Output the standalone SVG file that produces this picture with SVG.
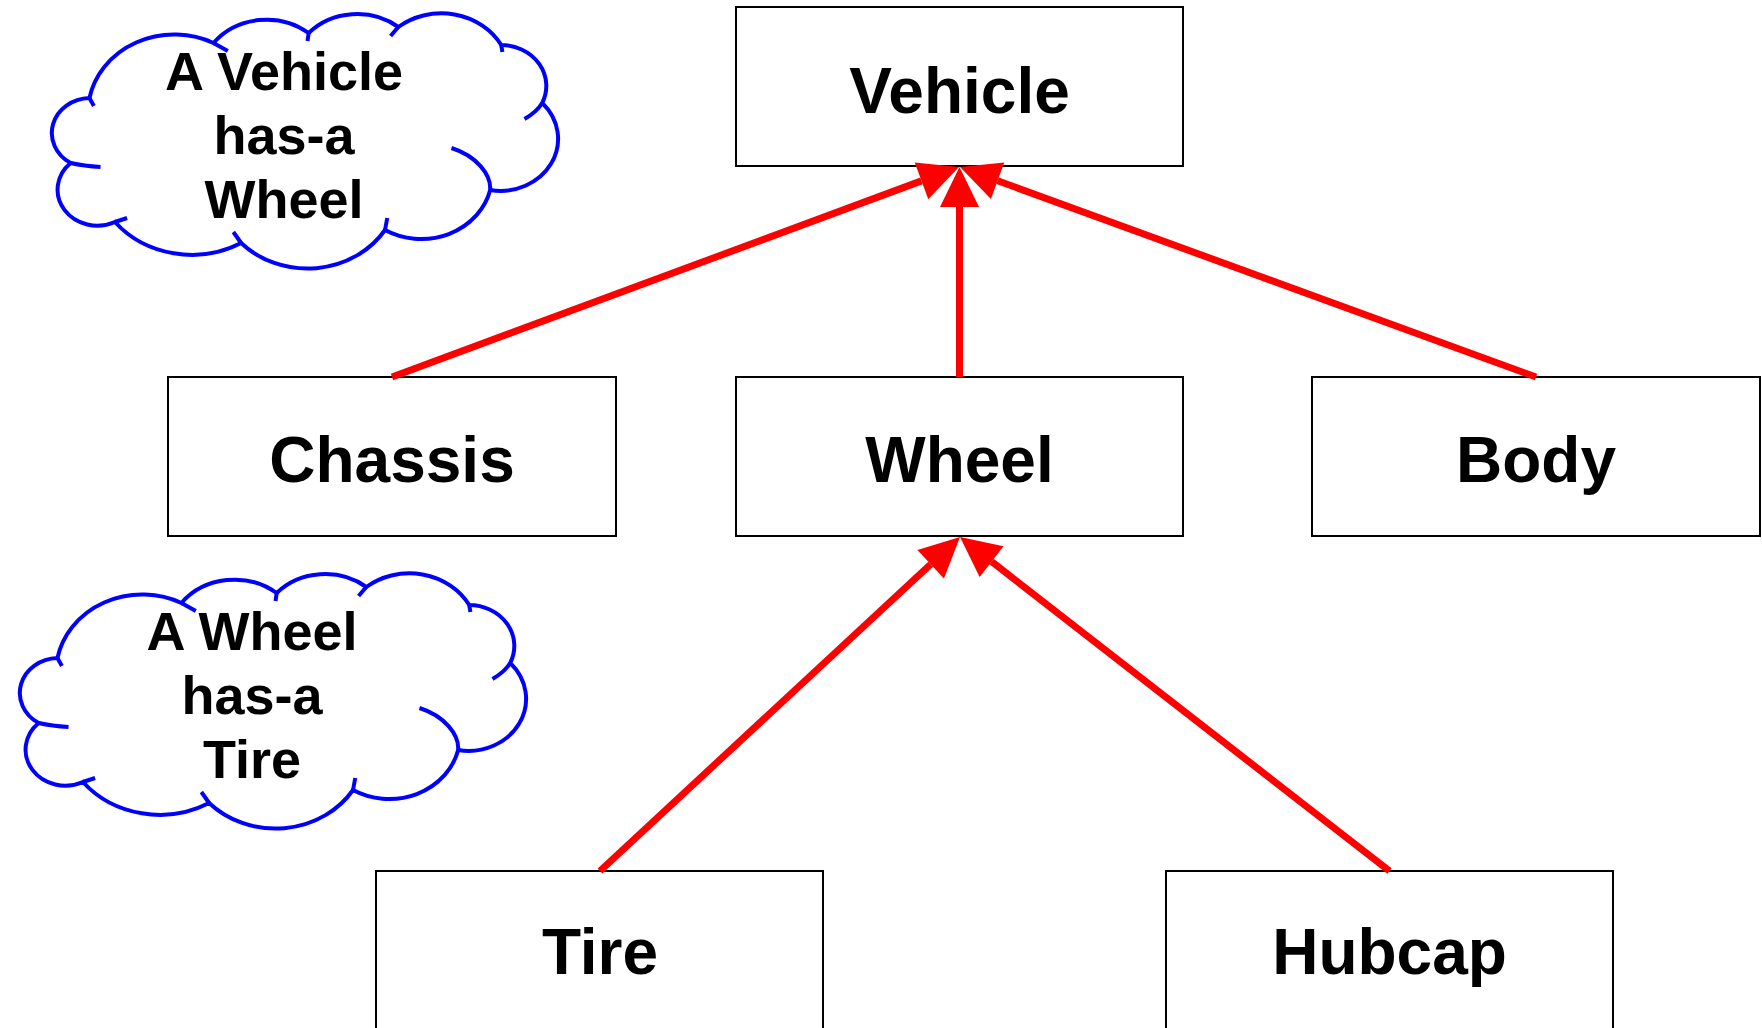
<svg xmlns="http://www.w3.org/2000/svg" width="1762" height="1028" viewBox="0 0 1762 1028">
  <style>
    .box { fill: #ffffff; stroke: #000000; stroke-width: 2; }
    .label { font-family: "Liberation Sans", Arial, sans-serif; font-weight: bold; font-size: 64px; fill: #000000; text-anchor: middle; }
    .note { font-family: "Liberation Sans", Arial, sans-serif; font-weight: bold; font-size: 54px; fill: #000000; text-anchor: middle; }
    .edge { stroke: #ff0000; stroke-width: 7; fill: none; marker-end: url(#arrow); }
    .cloud { fill: #ffffff; stroke: #0000ff; stroke-width: 4; vector-effect: non-scaling-stroke; }
    .crease { fill: none; stroke: #0000ff; stroke-width: 4; vector-effect: non-scaling-stroke; }
  </style>
  <defs>
    <marker id="arrow" markerUnits="userSpaceOnUse" markerWidth="41" markerHeight="40" refX="0" refY="19.5" orient="auto" overflow="visible">
      <path d="M0,0 L40,19.5 L0,39 Z" fill="#ff0000"/>
    </marker>
    <g id="cloudShape">
      <path class="cloud" d="M80,98 A78,78 0 0 1 192,43 A61,61 0 0 1 278,33 A60,60 0 0 1 359,27 A62,62 0 0 1 452,45 A41,41 0 0 1 489,103 A52,52 0 0 1 442,190 A64,64 0 0 1 347,230 A83,83 0 0 1 217,243 A90,90 0 0 1 103,222 A36,36 0 0 1 63,163 A35,35 0 0 1 80,98 Z"/>
      <path class="crease" d="M80,98 L84,106 M192,43 L205,51 M278,33 L277,41 M359,27 L352,36 M452,45 L453,52 M489,103 Q484,112 473,119 M442,190 C443,175 430,156 407,148 M347,230 L349,218 M217,243 L210,232 M103,222 L114,218 M63,163 Q75,166 90,167"/>
    </g>
  </defs>
  <rect x="0" y="0" width="1762" height="1028" fill="#ffffff"/>

  <g id="cloud-vehicle">
    <use href="#cloudShape" transform="matrix(1.107 0 0 1 0.9 0)"/>
    <text class="note" x="284" y="90">A Vehicle</text>
    <text class="note" x="284" y="154">has-a</text>
    <text class="note" x="284" y="218">Wheel</text>
  </g>

  <g id="cloud-wheel">
    <use href="#cloudShape" transform="matrix(1.107 0 0 1 -31.1 560)"/>
    <text class="note" x="252" y="650">A Wheel</text>
    <text class="note" x="252" y="714">has-a</text>
    <text class="note" x="252" y="778">Tire</text>
  </g>

  <g id="node-vehicle">
    <rect class="box" x="736" y="7" width="447" height="159"/>
    <text class="label" x="959.5" y="113">Vehicle</text>
  </g>
  <g id="node-chassis">
    <rect class="box" x="168" y="377" width="448" height="159"/>
    <text class="label" x="392" y="482">Chassis</text>
  </g>
  <g id="node-wheel">
    <rect class="box" x="736" y="377" width="447" height="159"/>
    <text class="label" x="959.5" y="482">Wheel</text>
  </g>
  <g id="node-body">
    <rect class="box" x="1312" y="377" width="448" height="159"/>
    <text class="label" x="1536" y="482">Body</text>
  </g>
  <g id="node-tire">
    <rect class="box" x="376" y="871" width="447" height="159"/>
    <text class="label" x="600" y="974">Tire</text>
  </g>
  <g id="node-hubcap">
    <rect class="box" x="1166" y="871" width="447" height="159"/>
    <text class="label" x="1389.5" y="974">Hubcap</text>
  </g>

  <g id="connectors">
    <line class="edge" x1="392" y1="377" x2="921.5" y2="180.9"/>
    <line class="edge" x1="959.5" y1="377" x2="959.5" y2="207"/>
    <line class="edge" x1="1536" y1="377" x2="997.6" y2="180.7"/>
    <line class="edge" x1="600" y1="871" x2="930.7" y2="564.2"/>
    <line class="edge" x1="1389.5" y1="871" x2="991.6" y2="561.6"/>
  </g>
</svg>
